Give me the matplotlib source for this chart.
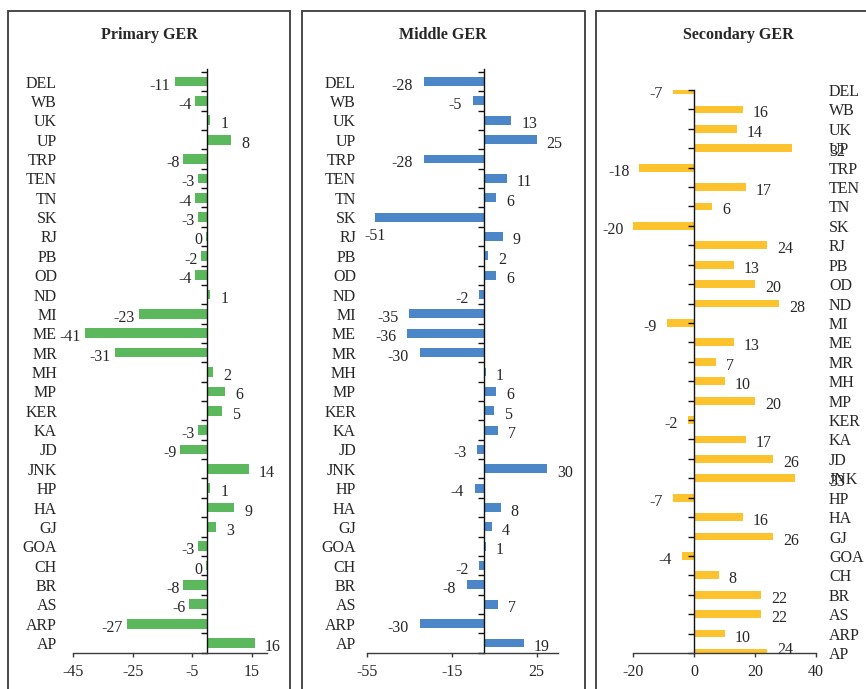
import matplotlib.pyplot as plt
from matplotlib.patches import Rectangle
from matplotlib import transforms
import numpy as np

# states from top to bottom
states = ['DEL', 'WB', 'UK', 'UP', 'TRP', 'TEN', 'TN', 'SK', 'RJ', 'PB',
          'OD', 'ND', 'MI', 'ME', 'MR', 'MH', 'MP', 'KER', 'KA', 'JD',
          'JNK', 'HP', 'HA', 'GJ', 'GOA', 'CH', 'BR', 'AS', 'ARP', 'AP']

primary_ger = [-11, -4, 1, 8, -8, -3, -4, -3, -0.4, -2,
               -4, 1, -23, -41, -31, 2, 6, 5, -3, -9,
               14, 1, 9, 3, -3, -0.4, -8, -6, -27, 16]

middle_ger = [-28, -5, 13, 25, -28, 11, 6, -51, 9, 2,
              6, -2, -35, -36, -30, 1, 6, 5, 7, -3,
              30, -4, 8, 4, 1, -2, -8, 7, -30, 19]

secondary_ger = [-7, 16, 14, 32, -18, 17, 6, -20, 24, 13,
                 20, 28, -9, 13, 7, 10, 20, -2, 17, 26,
                 33, -7, 16, 26, -4, 8, 22, 22, 10, 24]

titles = ['Primary GER', 'Middle GER', 'Secondary GER']
colors = ['#5cb85c', '#4a86c8', '#fcc32e']
xlims = [(-45, 20), (-55, 35), (-20, 40)]
xticks = [[-45, -25, -5, 15], [-55, -15, 25], [-20, 0, 20, 40]]

plt.rcParams['font.family'] = ['Liberation Serif', 'DejaVu Serif']
plt.rcParams['axes.unicode_minus'] = False

W, H = 866, 689
fig = plt.figure(figsize=(W / 100, H / 100), dpi=100)

text_color = '#262626'
axis_color = '#3b3b3b'
PX = 0.72  # points per pixel at 100 dpi

# layout in pixels: axes (left, right, top, bottom), panel box (left, right), title x, label x
layout = [
    dict(ax=(73.3, 266.8, 69, 652.7), box=(8, 290), tx=149, lx=57, bar_h=0.5, neg_gap=4),
    dict(ax=(366.7, 558.0, 69, 652.7), box=(302, 585), tx=443, lx=356, bar_h=0.46, neg_gap=11),
    dict(ax=(633.3, 816.0, 90, 653.0), box=(596, 880), tx=738, lx=829, bar_h=0.4, neg_gap=10),
]
series = [primary_ger, middle_ger, secondary_ger]

n = len(states)
ypos = np.arange(n)[::-1]

for k in range(3):
    L = layout[k]
    x0, x1, yt, yb = L['ax']
    ax = fig.add_axes([x0 / W, 1 - yb / H, (x1 - x0) / W, (yb - yt) / H])
    vals = series[k]
    ax.barh(ypos, vals, height=L['bar_h'], color=colors[k])
    ax.set_xlim(*xlims[k])
    ax.set_xticks(xticks[k])
    if k < 2:
        ax.set_ylim(-0.5, 29.65)
        ax.set_yticks(np.arange(-0.5, 29.6, 1))
    else:
        ax.set_ylim(0, 29)
        ax.set_yticks(np.arange(0, 30))
    ax.set_yticklabels([])
    ax.spines['top'].set_visible(False)
    ax.spines['right'].set_visible(False)
    ax.spines['left'].set_position(('data', 0))
    ax.spines['left'].set_color('#111111')
    ax.spines['bottom'].set_color(axis_color)
    ax.spines['left'].set_linewidth(1.0)
    ax.spines['bottom'].set_linewidth(1.0)
    ax.tick_params(axis='y', direction='out', length=4, width=1.0, color='#111111')
    ax.tick_params(axis='x', direction='out', length=3, width=1.0, color=axis_color,
                   labelsize=11.5, labelcolor=text_color, pad=5)
    ax.patch.set_visible(False)

    # value labels
    scale = (x1 - x0) / (xlims[k][1] - xlims[k][0])  # px per unit
    for y, v in zip(ypos, vals):
        txt = str(int(round(v)))
        dy = -2
        if v >= 0:
            dx, ha = 10, 'left'
            if k == 2 and v + 8.5 > xlims[k][1]:
                # pushed out beyond the plot area
                dx = (x1 - x0) - (v - xlims[k][0]) * scale + 13
        else:
            dx, ha = -L['neg_gap'], 'right'
            if k == 1 and (v - xlims[k][0]) * scale - L['neg_gap'] < 0:
                # no room on the left: label drops below the bar
                dx, ha, dy = -11, 'left', -17
        if k == 2 and y == 0:
            dy = 5
        ax.annotate(txt, (v, y), xytext=(dx * PX, dy * PX), textcoords='offset points',
                    ha=ha, va='center_baseline', fontsize=11.5, color=text_color,
                    annotation_clip=False)

    # category labels
    tr = transforms.blended_transform_factory(fig.transFigure, ax.transData)
    for y, s in zip(ypos, states):
        fig.text(L['lx'] / W, y, s, transform=tr, ha='right' if k < 2 else 'left',
                 va='center_baseline', fontsize=11.5, color=text_color)

    # panel title and box
    fig.text(L['tx'] / W, 1 - 35 / H, titles[k], ha='center', va='center',
             fontsize=11.5, fontweight='bold', color=text_color)
    bx0, bx1 = L['box']
    fig.add_artist(Rectangle((bx0 / W, -0.05), (bx1 - bx0) / W, 1.05 - 11 / H,
                             transform=fig.transFigure, fill=False,
                             edgecolor='#3a3a3a', linewidth=1.3))

fig.savefig('out.png', dpi=100)
